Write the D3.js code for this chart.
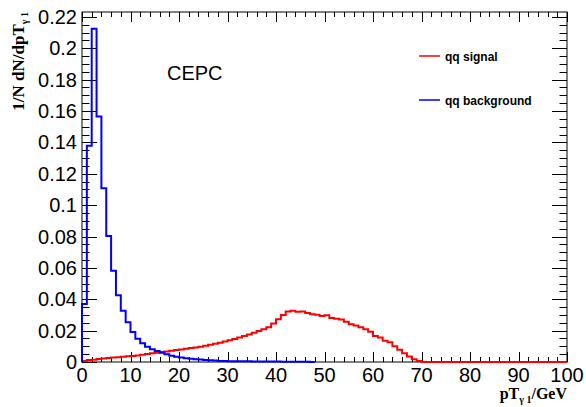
<!DOCTYPE html>
<html>
<head>
<meta charset="utf-8">
<script src="https://cdn.jsdelivr.net/npm/d3@7"></script>
<style>
  html, body { margin: 0; padding: 0; background: #fff; }
  svg { display: block; }
</style>
</head>
<body>
<svg id="chart" width="586" height="407"></svg>
<script>
// Normalised photon pT distributions (1 GeV bins)
const signalRange = [0, 100];
const signalValues = [
  0.0007, 0.0012, 0.0015, 0.0019, 0.0022, 0.0026, 0.0028, 0.0030, 0.0033, 0.0036,
  0.0039, 0.0042, 0.0046, 0.0051, 0.0055, 0.0059, 0.0063, 0.0067, 0.0071, 0.0076,
  0.0080, 0.0085, 0.0089, 0.0093, 0.0098, 0.0104, 0.0110, 0.0116, 0.0123, 0.0130,
  0.0138, 0.0147, 0.0156, 0.0166, 0.0176, 0.0186, 0.0197, 0.0208, 0.0222, 0.0245,
  0.0272, 0.0300, 0.0322, 0.0327, 0.0320, 0.0322, 0.0312, 0.0304, 0.0302, 0.0294,
  0.0298, 0.0280, 0.0276, 0.0271, 0.0256, 0.0240, 0.0233, 0.0221, 0.0209, 0.0193,
  0.0165, 0.0156, 0.0136, 0.0126, 0.0100, 0.0078, 0.0056, 0.0035, 0.0018, 0.0006,
  0, 0, 0, 0, 0, 0, 0, 0, 0, 0,
  0, 0, 0, 0, 0, 0, 0, 0, 0, 0,
  0, 0, 0, 0, 0, 0, 0, 0, 0, 0
];

const backgroundRange = [0, 48];
const backgroundValues = [
  0.0370, 0.1378, 0.2125, 0.1565, 0.1108, 0.0804, 0.0582, 0.0425, 0.0327, 0.0253,
  0.0191, 0.0149, 0.0119, 0.0098, 0.0081, 0.0070, 0.0059, 0.0049, 0.0040, 0.0033,
  0.0028, 0.0024, 0.0021, 0.0018, 0.0016, 0.0013, 0.0011, 0.0009, 0.0007, 0.0006,
  0.0005, 0.0005, 0.0004, 0.0004, 0.0004, 0.0003, 0.0003, 0.0003, 0.0003, 0.0003,
  0.0003, 0.0002, 0.0002, 0.0002, 0.0002, 0.0002, 0.0001, 0.0000
];

const seriesNames = ["qq signal", "qq background"];
const seriesColors = ["#ff0000", "#0000ff"];

const xTickLabels = [0, 10, 20, 30, 40, 50, 60, 70, 80, 90, 100];
const yTickLabels = [0, 0.02, 0.04, 0.06, 0.08, 0.1, 0.12, 0.14, 0.16, 0.18, 0.2, 0.22];

const svg = d3.select("#chart");
const frame = { left: 82, right: 567, top: 12, bottom: 362 };

const yMax = d3.max(backgroundValues) * 1.05;
const x = d3.scaleLinear().domain([0, 100]).range([frame.left, frame.right]);
const y = d3.scaleLinear().domain([0, yMax]).range([frame.bottom, frame.top]);

// Frame box
svg.append("rect")
  .attr("x", frame.left).attr("y", frame.top)
  .attr("width", frame.right - frame.left).attr("height", frame.bottom - frame.top)
  .attr("fill", "none").attr("stroke", "#000").attr("stroke-width", 1);

// Ticks on all four sides, pointing inward
const xMinor = d3.range(0, 100.001, 2);
const yMinor = d3.range(0, yMax, 0.005);
const isMajorX = v => Math.abs(v / 10 - Math.round(v / 10)) < 1e-6;
const isMajorY = v => Math.abs(v / 0.02 - Math.round(v / 0.02)) < 1e-6;

const ticks = svg.append("g").attr("stroke", "#000").attr("stroke-width", 1);
xMinor.forEach(v => {
  const len = isMajorX(v) ? 10 : 5;
  const px = Math.round(x(v)) + 0.5;
  ticks.append("line").attr("x1", px).attr("x2", px)
    .attr("y1", frame.bottom).attr("y2", frame.bottom - len);
  ticks.append("line").attr("x1", px).attr("x2", px)
    .attr("y1", frame.top).attr("y2", frame.top + len);
});
yMinor.forEach(v => {
  const len = isMajorY(v) ? 15 : 7.5;
  const py = Math.round(y(v)) + 0.5;
  ticks.append("line").attr("y1", py).attr("y2", py)
    .attr("x1", frame.left).attr("x2", frame.left + len);
  ticks.append("line").attr("y1", py).attr("y2", py)
    .attr("x1", frame.right).attr("x2", frame.right - len);
});

// Tick labels
const labelFont = "'Liberation Sans', Arial, Helvetica, sans-serif";
svg.append("g").selectAll("text").data(xTickLabels).join("text")
  .attr("x", d => x(d)).attr("y", 382)
  .attr("text-anchor", "middle")
  .attr("font-family", labelFont).attr("font-size", 20)
  .text(d => d);
svg.append("g").selectAll("text").data(yTickLabels).join("text")
  .attr("x", 77).attr("y", d => y(d) + 7)
  .attr("text-anchor", "end")
  .attr("font-family", labelFont).attr("font-size", 20)
  .text(d => d3.format("~g")(d));

// Histogram outlines
function stepPoints(values, range) {
  const w = (range[1] - range[0]) / values.length;
  const pts = [[range[0], 0]];
  values.forEach((v, i) => {
    pts.push([range[0] + i * w, v]);
    pts.push([range[0] + (i + 1) * w, v]);
  });
  pts.push([range[1], 0]);
  return pts;
}
const line = d3.line().x(d => x(d[0])).y(d => y(d[1]));

[[signalValues, signalRange], [backgroundValues, backgroundRange]].forEach(([vals, rng], i) => {
  svg.append("path")
    .attr("d", line(stepPoints(vals, rng)))
    .attr("fill", "none")
    .attr("stroke", seriesColors[i])
    .attr("stroke-width", 2)
    .attr("stroke-linejoin", "miter");
});

// Experiment label
svg.append("text")
  .attr("x", 167).attr("y", 80)
  .attr("font-family", labelFont).attr("font-size", 20)
  .text("CEPC");

// Legend
const legendY = [56, 100];
seriesNames.forEach((name, i) => {
  svg.append("line")
    .attr("x1", 419).attr("x2", 440)
    .attr("y1", legendY[i]).attr("y2", legendY[i])
    .attr("stroke", seriesColors[i]).attr("stroke-width", 1.5);
  svg.append("text")
    .attr("x", 445).attr("y", legendY[i] + 4.5)
    .attr("font-family", labelFont).attr("font-size", 12).attr("font-weight", "bold")
    .text(name);
});

// Axis titles
const titleFont = "'Liberation Serif', 'Times New Roman', serif";
const xTitle = svg.append("text")
  .attr("x", frame.right).attr("y", 399)
  .attr("text-anchor", "end")
  .attr("font-family", titleFont).attr("font-size", 16).attr("font-weight", "bold");
xTitle.append("tspan").text("pT");
xTitle.append("tspan").attr("font-size", 10).attr("dy", 4).text("γ 1");
xTitle.append("tspan").attr("dy", -4).text("/GeV");

const yTitle = svg.append("text")
  .attr("transform", `translate(24, ${frame.top}) rotate(-90)`)
  .attr("text-anchor", "end")
  .attr("font-family", titleFont).attr("font-size", 17).attr("font-weight", "bold");
yTitle.append("tspan").text("1/N dN/dpT");
yTitle.append("tspan").attr("font-size", 10).attr("dy", 4).text("γ 1");
</script>
</body>
</html>
